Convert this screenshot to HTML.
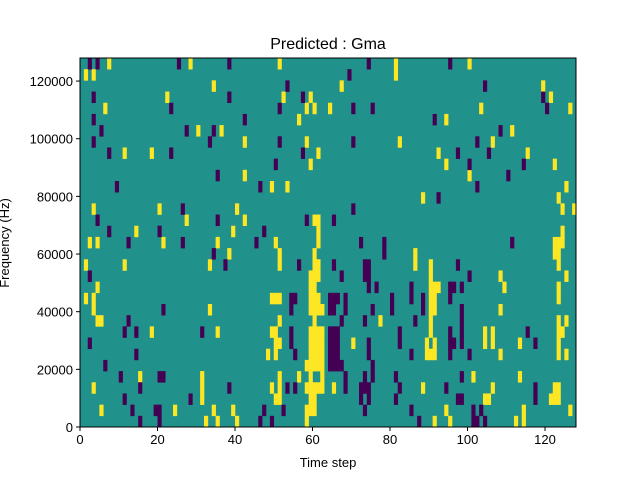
<!DOCTYPE html>
<html><head><meta charset="utf-8"><style>
body{margin:0;background:#fff;}
svg{display:block;font-family:"Liberation Sans","DejaVu Sans",sans-serif;}
</style></head><body>
<svg id="chart" width="640" height="480" viewBox="0 0 640 480">
<text x="328" y="49" text-anchor="middle" font-size="16" fill="#000">Predicted : Gma</text>
<text x="328" y="467" text-anchor="middle" font-size="13" fill="#000">Time step</text>
<text transform="translate(9,243) rotate(-90)" text-anchor="middle" font-size="13" fill="#000">Frequency (Hz)</text>
<g id="cells"></g>
<g id="axes"></g>
</svg>
<script>
const nCols = 128;
const nRows = 33;
const maxFreq = 128000;
const xTicks = [0, 20, 40, 60, 80, 100, 120];
const yTicks = [0, 20000, 40000, 60000, 80000, 100000, 120000];
const yellowRows = [
[32,35,40,58,91,95,112,114],
[5,24,34,39,58,59,60,94,114,126],
[31,50,51,59,60,104,105,121,122,123],
[3,31,49,51,58,59,60,61,62,65,88,106,122,123],
[15,31,51,56,59,62,101,113],
[58,59,60,61,62],
[48,50,59,60,61,62,89,90,91,108,123,125],
[50,51,59,60,61,62,70,89,91,104,106,113,123],
[18,35,49,50,59,60,61,62,90,104,106,123,124],
[4,5,51,60,77,90,123,125],
[3,33,59,60,61,62,90,91,108],
[1,3,49,50,51,59,60,61,90,91,123],
[4,59,60,90,91,92,109,123],
[59,60,61,90,108,125],
[1,11,33,51,60,61,86,90,123],
[38,51,60,86,122,123],
[2,4,21,35,50,61,122,123,124],
[14,39,61,124],
[27,42,60,61],
[3,20,40,124,127],
[88,123],
[49,53,125],
[42,100],
[59,94,122],
[11,18,61,92,115],
[42,58,82,106],
[30,36,111],
[56,94],
[6,58,60,64,103,126],
[22,52,59,121],
[34,67,119],
[1,3,81],
[7,28,51,81,100]
];
const purpleRows = [
[15,20,46,49,87,101,102,104],
[13,19,20,47,52,73,85,101,103],
[11,28,72,74,81,97,98,117],
[15,38,53,55,68,72,73,74,82,94,117],
[10,20,21,68,73,75,81,98],
[6,64,65,66,67,75],
[14,55,64,65,66,74,85,95,100],
[2,54,64,65,66,74,82,95,96,98,117],
[11,14,31,54,64,65,66,82,95,98,115],
[12,67,73,86,98],
[21,54,64,65,68,75,80,88,98],
[54,55,64,65,66,68,80,85,88,95],
[74,76,85,95,96,98],
[2,67,73,74,100],
[37,56,65,73,74,97],
[34,78],
[12,26,45,72,78,111],
[7,20,47],
[4,35,58,65],
[26,70],
[92],
[9,46,102],
[35,110],
[50,100,114],
[7,23,57,97,105],
[3,33,51,70,102],
[5,27,34,108],
[3,42,91],
[23,51,70,75,120],
[3,38,57,119],
[53,104],
[69],
[2,4,25,38,74,95]
];

const L = 80, R = 576, T = 58, B = 427;
const NS = 'http://www.w3.org/2000/svg';
function X(v){ return L + (v / nCols) * (R - L); }
function Y(f){ return B - (f / maxFreq) * (B - T); }
const binHz = maxFreq / nRows;
const cells = document.getElementById('cells');
const axes = document.getElementById('axes');

const bg = document.createElementNS(NS, 'rect');
bg.setAttribute('x', L); bg.setAttribute('y', T);
bg.setAttribute('width', R - L); bg.setAttribute('height', B - T);
bg.setAttribute('fill', '#21918c');


cells.appendChild(bg);

function drawCells(rows, color, name){
  rows.forEach((cols, r) => {
    cols.forEach(c => {
      const rc = document.createElementNS(NS, 'rect');
      const x0 = X(c), x1 = X(c + 1);
      const y0 = Y((r + 1) * binHz), y1 = Y(r * binHz);
      rc.setAttribute('x', x0.toFixed(2));
      rc.setAttribute('y', y0.toFixed(2));
      rc.setAttribute('width', (x1 - x0 + 0.3).toFixed(2));
      rc.setAttribute('height', (y1 - y0 + 0.3).toFixed(2));
      rc.setAttribute('fill', color);
      
      
      cells.appendChild(rc);
    });
  });
}
drawCells(yellowRows, '#fde725', 'heatmap-cell-high');
drawCells(purpleRows, '#440154', 'heatmap-cell-low');

const frame = document.createElementNS(NS, 'rect');
frame.setAttribute('x', L); frame.setAttribute('y', T);
frame.setAttribute('width', R - L); frame.setAttribute('height', B - T);
frame.setAttribute('fill', 'none'); frame.setAttribute('stroke', '#000'); frame.setAttribute('stroke-width', '1');


axes.appendChild(frame);

xTicks.forEach(v => {
  const x = X(v);
  const ln = document.createElementNS(NS, 'line');
  ln.setAttribute('x1', x); ln.setAttribute('x2', x);
  ln.setAttribute('y1', B); ln.setAttribute('y2', B + 4);
  ln.setAttribute('stroke', '#000');
  
  
  axes.appendChild(ln);
  const t = document.createElementNS(NS, 'text');
  t.setAttribute('x', x); t.setAttribute('y', B + 17);
  t.setAttribute('text-anchor', 'middle'); t.setAttribute('font-size', '13');
  t.textContent = v;
  
  
  axes.appendChild(t);
});
yTicks.forEach(v => {
  const y = Y(v);
  const ln = document.createElementNS(NS, 'line');
  ln.setAttribute('x1', L - 4); ln.setAttribute('x2', L);
  ln.setAttribute('y1', y); ln.setAttribute('y2', y);
  ln.setAttribute('stroke', '#000');
  
  
  axes.appendChild(ln);
  const t = document.createElementNS(NS, 'text');
  t.setAttribute('x', L - 7); t.setAttribute('y', y + 5);
  t.setAttribute('text-anchor', 'end'); t.setAttribute('font-size', '13');
  t.textContent = v;
  
  
  axes.appendChild(t);
});
</script>
</body></html>
